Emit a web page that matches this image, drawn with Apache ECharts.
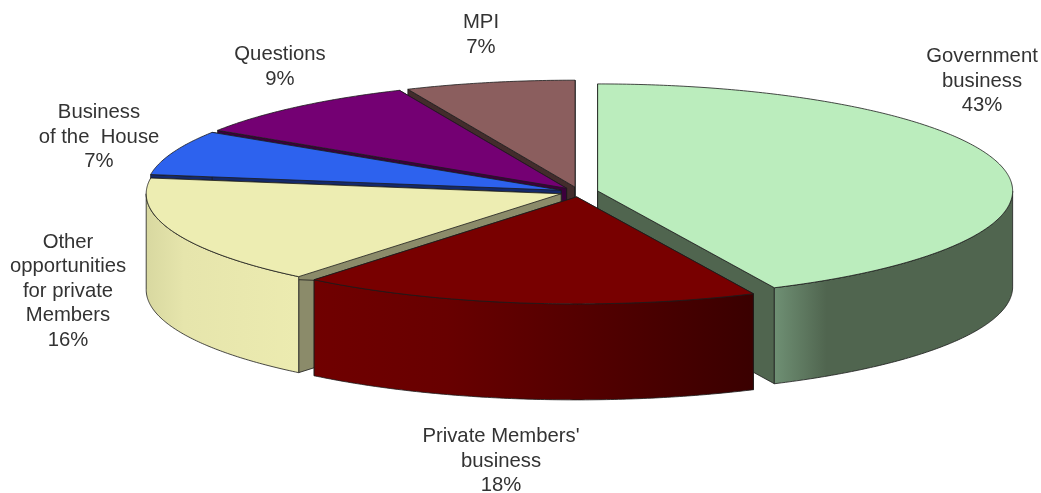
<!DOCTYPE html>
<html><head><meta charset="utf-8">
<style>html,body{margin:0;padding:0;background:#fff}#c{width:1041px;height:493px}</style>
<script src="https://cdn.jsdelivr.net/npm/echarts@6/dist/echarts.min.js"></script>
</head><body><div id="c"></div>
<script>
const categories = ['Government\nbusiness', "Private Members'\nbusiness", 'Other\nopportunities\nfor private\nMembers', 'Business\nof the  House', 'Questions', 'MPI'];
const shares = [43, 17.9, 16.45, 6.75, 9.3, 6.6];

const topColors  = ['#bbedbd', '#780000', '#ededb2', '#2d62ee', '#740073', '#8b5e5e'];
const cutColors  = ['#50654f', '#3a0000', '#8b8b6a', '#14296b', '#3c003c', '#432c2c'];
const wallStops  = [
  [[0, '#6f9074'], [0.22, '#50654f'], [1, '#50654f']],
  [[0, '#700000'], [0.3, '#680000'], [1, '#3a0000']],
  [[0, '#d8d8a0'], [0.25, '#e6e5ac'], [1, '#ecebb0']],
  [[0, '#14296b'], [1, '#14296b']],
  [[0, '#3c003c'], [1, '#3c003c']],
  [[0, '#432c2c'], [1, '#432c2c']]
];
const labelAnchors = [[982, 81], [501, 461], [68, 291], [99, 137], [280, 67], [481, 35]];

const CX = 579, CY = 192, RX = 415, RY = 107, DEPTH = 96, EXPLODE = 0.046;
const total = shares.reduce((a, b) => a + b, 0);
const starts = [];
shares.reduce((acc, v, i) => (starts[i] = acc, acc + v), 0);
const rad = v => v / total * 2 * Math.PI;
const midCos = i => Math.cos(rad(starts[i] + shares[i] / 2));
const paintOrder = shares.map((_, i) => i).sort((a, b) => midCos(b) - midCos(a));

function arc(cx, cy, a0, a1, dy) {
  const n = Math.max(2, Math.ceil((a1 - a0) / 0.01));
  const pts = [];
  for (let k = 0; k <= n; k++) {
    const t = a0 + (a1 - a0) * k / n;
    pts.push([cx + RX * Math.sin(t), cy - RY * Math.cos(t) + dy]);
  }
  return pts;
}
const EDGE = { stroke: '#1c1c1c', lineWidth: 0.8, lineJoin: 'round' };

function renderItem(params, api) {
  const i = api.value(1);
  const value = api.value(0);
  const a0 = rad(starts[i]), a1 = rad(starts[i] + value), m = (a0 + a1) / 2;
  const cx = CX + EXPLODE * RX * Math.sin(m), cy = CY - EXPLODE * RY * Math.cos(m);
  const children = [];
  const quad = a => {
    const p = [cx + RX * Math.sin(a), cy - RY * Math.cos(a)];
    return [[cx, cy], p, [p[0], p[1] + DEPTH], [cx, cy + DEPTH]];
  };
  children.push({ type: 'polygon', shape: { points: quad(a0) }, style: { fill: cutColors[i], ...EDGE } });
  children.push({ type: 'polygon', shape: { points: quad(a1) }, style: { fill: cutColors[i], ...EDGE } });
  const w0 = Math.max(a0, Math.PI / 2), w1 = Math.min(a1, 3 * Math.PI / 2);
  if (w1 > w0) {
    const up = arc(cx, cy, w0, w1, 0), down = arc(cx, cy, w0, w1, DEPTH).reverse();
    children.push({ type: 'polygon', shape: { points: up.concat(down) }, style: {
      fill: { type: 'linear', x: 0, y: 0, x2: 1, y2: 0,
        colorStops: wallStops[i].map(s => ({ offset: s[0], color: s[1] })) }, ...EDGE } });
  }
  children.push({ type: 'polygon', shape: { points: [[cx, cy]].concat(arc(cx, cy, a0, a1, 0)) },
    style: { fill: topColors[i], ...EDGE } });
  return { type: 'group', children };
}

function renderLabel(params, api) {
  const i = api.value(1);
  return { type: 'text', style: {
    text: categories[i] + '\n' + Math.round(api.value(0)) + '%',
    x: labelAnchors[i][0], y: labelAnchors[i][1],
    align: 'center', verticalAlign: 'middle',
    font: '20.3px "Liberation Sans", Arial, sans-serif', lineHeight: 24.5, fill: '#333333'
  } };
}

const chart = echarts.init(document.getElementById('c'), null, { renderer: 'canvas' });
const rows = paintOrder.map(i => ({ name: categories[i], value: [shares[i], i] }));
chart.setOption({
  animation: false,
  backgroundColor: '#fff',
  series: [
    { type: 'custom', coordinateSystem: 'none', renderItem, data: rows, silent: true, z: 2 },
    { type: 'custom', coordinateSystem: 'none', renderItem: renderLabel, data: rows, silent: true, z: 3 }
  ]
});
</script></body></html>
